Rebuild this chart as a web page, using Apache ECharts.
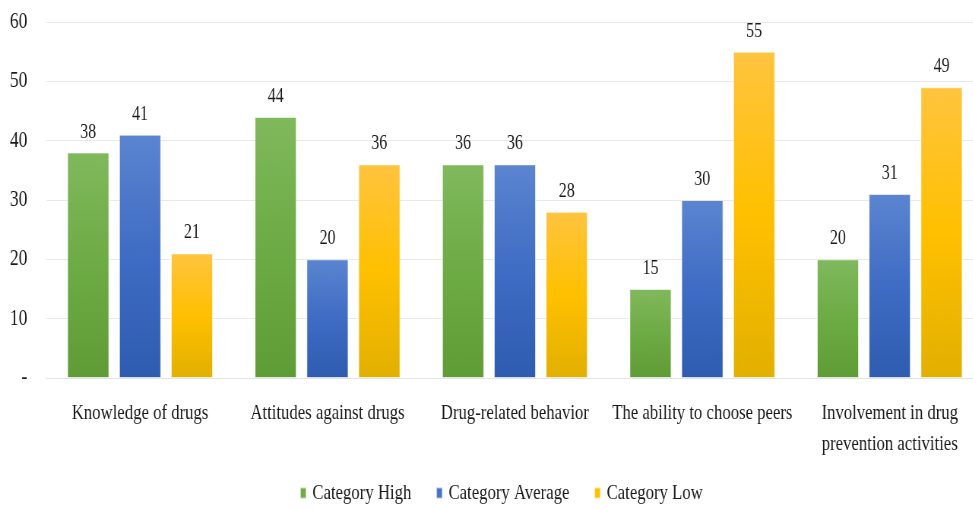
<!DOCTYPE html>
<html>
<head>
<meta charset="utf-8">
<script src="https://cdn.jsdelivr.net/npm/echarts@6/dist/echarts.min.js"></script>
<style>
  html, body { margin: 0; padding: 0; background: #fff; overflow: hidden; }
  #wrap { width: 973px; height: 509px; overflow: hidden; position: relative; }
  /* the serif text in this chart is set narrow, so the canvas is drawn wide and condensed horizontally */
  #chart { width: 1300px; height: 509px; transform: scaleX(0.76); transform-origin: 0 0; }
</style>
</head>
<body>
<div id="wrap"><div id="chart"></div></div>
<script>
// Survey results by aspect, grouped by level category
const categories = [
  'Knowledge of drugs',
  'Attitudes against drugs',
  'Drug-related behavior',
  'The ability to choose peers',
  'Involvement in drug\nprevention activities'
];
const seriesNames = ['Category High', 'Category Average', 'Category Low'];
const highValues = [38, 44, 36, 15, 20];
const averageValues = [41, 20, 36, 30, 31];
const lowValues = [21, 36, 28, 55, 49];

const FONT = '"Liberation Serif", "Times New Roman", serif';

function grad(top, mid, bottom) {
  return new echarts.graphic.LinearGradient(0, 0, 0, 1, [
    { offset: 0, color: top },
    { offset: 0.5, color: mid },
    { offset: 1, color: bottom }
  ]);
}

const fills = [
  grad('#80b95c', '#6dab45', '#5f9c35'),
  grad('#5b85d0', '#3f6cc4', '#2e5cb0'),
  grad('#ffc43f', '#ffc000', '#e2b000')
];
const legendColors = ['#70ad47', '#4472c4', '#ffc000'];

function makeSeries(name, values, i) {
  return {
    name: name,
    type: 'bar',
    data: values,
    barWidth: 55,
    barGap: '24%',
    itemStyle: { color: fills[i], borderColor: 'rgba(255,255,255,0.6)', borderWidth: 1 },
    label: {
      show: true,
      position: 'top',
      distance: 10,
      color: '#1a1a1a',
      fontFamily: FONT,
      fontSize: 21
    }
  };
}

const chart = echarts.init(document.getElementById('chart'), null, { renderer: 'canvas' });
chart.setOption({
  animation: false,
  color: legendColors,
  grid: { left: 61, right: 6, top: 22, bottom: 131, containLabel: false },
  legend: {
    top: 477,
    left: 389,
    itemWidth: 8,
    itemHeight: 11,
    itemGap: 32,
    icon: 'rect',
    textStyle: { fontFamily: FONT, fontSize: 22, color: '#1a1a1a', padding: [0, 0, 0, 3] },
    data: seriesNames.map((n, i) => ({ name: n, itemStyle: { color: legendColors[i] } }))
  },
  xAxis: {
    type: 'category',
    data: categories,
    axisLine: { show: true, lineStyle: { color: '#e3e4ea' } },
    axisTick: { show: false },
    axisLabel: {
      interval: 0,
      margin: 20,
      fontFamily: FONT,
      fontSize: 22,
      lineHeight: 31,
      color: '#1a1a1a'
    }
  },
  yAxis: {
    type: 'value',
    min: 0,
    max: 60,
    interval: 10,
    axisLine: { show: false },
    axisTick: { show: false },
    splitLine: { lineStyle: { color: '#e8e9ef', width: 1 } },
    axisLabel: {
      margin: 25,
      fontFamily: FONT,
      fontSize: 23,
      color: '#1a1a1a',
      formatter: v => (v === 0 ? '-' : String(v))
    }
  },
  series: [
    makeSeries(seriesNames[0], highValues, 0),
    makeSeries(seriesNames[1], averageValues, 1),
    makeSeries(seriesNames[2], lowValues, 2)
  ]
});
</script>
</body>
</html>
